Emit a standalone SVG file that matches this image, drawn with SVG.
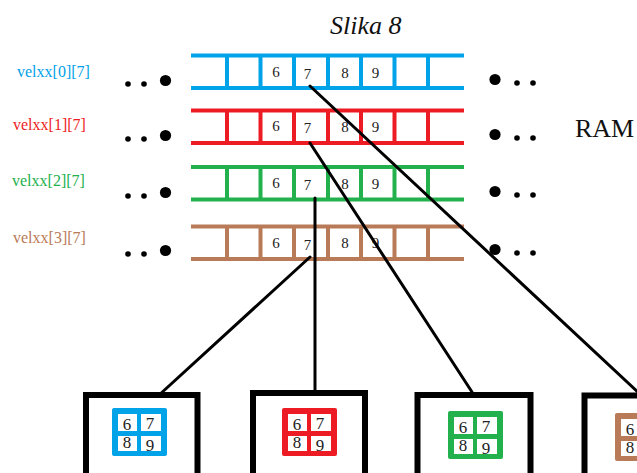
<svg xmlns="http://www.w3.org/2000/svg" width="637" height="473" viewBox="0 0 637 473">
<style>
.t{font-family:"Liberation Serif","Times New Roman",serif;}
.d{font-family:"Liberation Serif","Times New Roman",serif;font-size:15px;fill:#222;text-anchor:middle;}
.g{font-family:"Liberation Serif","Times New Roman",serif;font-size:17px;fill:#222;text-anchor:middle;}
.rail{stroke-width:4;fill:none;}
.box{fill:#fff;stroke:#000;stroke-width:6;}
.con{stroke:#000;stroke-width:3;fill:none;stroke-linecap:round;}
.dot{fill:#000;}
</style>
<defs>
<g id="ladder">
<path d="M191 0H464M191 32.5H464M227 0V32.5M260.5 0V32.5M294 0V32.5M328 0V32.5M361 0V32.5M394.5 0V32.5M428 0V32.5"/>
</g>
<g id="dots">
<circle class="dot" cx="128" cy="3.5" r="2.8"/>
<circle class="dot" cx="144" cy="3.5" r="2.8"/>
<circle class="dot" cx="165.5" cy="0" r="5.6"/>
<circle class="dot" cx="495" cy="-1" r="5.6"/>
<circle class="dot" cx="517" cy="2.5" r="2.8"/>
<circle class="dot" cx="533" cy="2.5" r="2.8"/>
</g>
<g id="cells">
<rect x="6" y="6" width="19" height="17" fill="#fff"/>
<rect x="29" y="6" width="20" height="17" fill="#fff"/>
<rect x="6" y="28" width="19" height="15" fill="#fff"/>
<rect x="29" y="28" width="20" height="15" fill="#fff"/>
<text class="g" x="15" y="22">6</text>
<text class="g" x="38" y="21">7</text>
<text class="g" x="15" y="40">8</text>
<text class="g" x="38" y="43">9</text>
</g>
</defs>
<rect width="637" height="473" fill="#fff"/>
<text class="t" x="330" y="34" font-size="26" font-style="italic" fill="#111">Slika 8</text>
<text class="t" x="575" y="136.5" font-size="26" fill="#111">RAM</text>

<g id="row0">
<text class="t" x="17" y="76.5" font-size="16" fill="#00A2E8">velxx[0][7]</text>
<use href="#dots" y="80.5"/>
<g class="rail" stroke="#00A2E8" transform="translate(0,55.5)"><use href="#ladder"/></g>
<text class="d" x="276" y="77">6</text><text class="d" x="307.5" y="79">7</text><text class="d" x="345" y="77.5">8</text><text class="d" x="375.5" y="77.5">9</text>
</g>
<g id="row1">
<text class="t" x="13" y="130" font-size="16" fill="#ED1C24">velxx[1][7]</text>
<use href="#dots" y="135.5"/>
<g class="rail" stroke="#ED1C24" transform="translate(0,110.5)"><use href="#ladder"/></g>
<text class="d" x="276" y="131">6</text><text class="d" x="307.5" y="133">7</text><text class="d" x="345" y="131.5">8</text><text class="d" x="375.5" y="131.5">9</text>
</g>
<g id="row2">
<text class="t" x="12" y="185.5" font-size="16" fill="#22B14C">velxx[2][7]</text>
<use href="#dots" y="192.5"/>
<g class="rail" stroke="#22B14C" transform="translate(0,167)"><use href="#ladder"/></g>
<text class="d" x="276" y="188">6</text><text class="d" x="307.5" y="190">7</text><text class="d" x="345" y="188.5">8</text><text class="d" x="375.5" y="188.5">9</text>
</g>
<g id="row3">
<text class="t" x="13" y="243" font-size="16" fill="#B97A57">velxx[3][7]</text>
<use href="#dots" y="250.5"/>
<g class="rail" stroke="#B97A57" transform="translate(0,226.5)"><use href="#ladder"/></g>
<text class="d" x="276" y="247.5">6</text><text class="d" x="307.5" y="249.5">7</text><text class="d" x="345" y="248">8</text><text class="d" x="375.5" y="248">9</text>
</g>

<g id="box0">
<rect class="box" x="86" y="395" width="111.5" height="100"/>
<g transform="translate(112,408)"><rect width="55" height="48" rx="2" fill="#00A2E8"/><use href="#cells"/></g>
</g>
<g id="box1">
<rect class="box" x="253" y="393" width="112" height="100"/>
<g transform="translate(282,408)"><rect width="55" height="48" rx="2" fill="#ED1C24"/><use href="#cells"/></g>
</g>
<g id="box2">
<rect class="box" x="417.5" y="395" width="113" height="100"/>
<g transform="translate(448,411)"><rect width="55" height="48" rx="2" fill="#22B14C"/><use href="#cells"/></g>
</g>
<g id="box3">
<rect class="box" x="584.5" y="395.5" width="113" height="100"/>
<g transform="translate(615,413)"><rect width="55" height="48" rx="2" fill="#B97A57"/><use href="#cells"/></g>
</g>

<g id="connectors">
<line class="con" x1="310" y1="86" x2="641" y2="395"/>
<line class="con" x1="310" y1="143" x2="472" y2="392"/>
<line class="con" x1="315" y1="198" x2="315" y2="392"/>
<line class="con" x1="310" y1="257" x2="158" y2="396"/>
</g>
</svg>
